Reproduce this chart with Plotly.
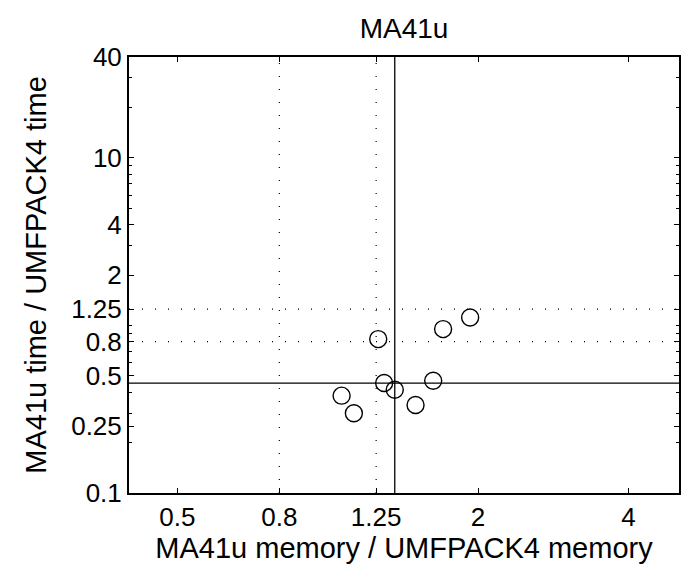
import numpy as np
import plotly.graph_objects as go

# Data: memory ratio (x) and time ratio (y) for MA41u vs UMFPACK4
mem_ratio = [1.262, 1.702, 1.928, 1.297, 1.362, 1.626, 1.066, 1.128, 1.499]
time_ratio = [0.829, 0.951, 1.116, 0.453, 0.413, 0.468, 0.381, 0.299, 0.335]

x_ticks = [0.5, 0.8, 1.25, 2, 4]
x_ticklabels = ["0.5", "0.8", "1.25", "2", "4"]
y_ticks = [0.1, 0.25, 0.5, 0.8, 1.25, 2, 4, 10, 40]
y_ticklabels = ["0.1", "0.25", "0.5", "0.8", "1.25", "2", "4", "10", "40"]
ref_levels = [0.8, 1.25]
x_range = [0.4, 5.05]
y_range = [0.1, 40]

x_med = float(np.median(mem_ratio))
y_med = float(np.median(time_ratio))

FONT = "Liberation Sans, Arial, Helvetica, sans-serif"

fig = go.Figure()

fig.add_trace(go.Scatter(
    x=mem_ratio, y=time_ratio, mode="markers",
    marker=dict(symbol="circle-open", size=17, color="black",
                line=dict(width=1.4, color="black")),
    showlegend=False, hoverinfo="x+y"))

shapes = []
dot = dict(color="black", width=1.2, dash="1px,12px")
for v in ref_levels:
    shapes.append(dict(type="line", xref="x", yref="paper", x0=v, x1=v, y0=0, y1=1, line=dot, layer="below"))
    shapes.append(dict(type="line", xref="paper", yref="y", x0=0, x1=1, y0=v, y1=v, line=dot, layer="below"))
solid = dict(color="black", width=1.3)
shapes.append(dict(type="line", xref="x", yref="paper", x0=x_med, x1=x_med, y0=0, y1=1, line=solid))
shapes.append(dict(type="line", xref="paper", yref="y", x0=0, x1=1, y0=y_med, y1=y_med, line=solid))

axis_common = dict(
    type="log", showgrid=False, zeroline=False,
    showline=True, linecolor="black", linewidth=2, mirror="allticks",
    ticks="inside", ticklen=5, tickwidth=1, tickcolor="black",
    tickfont=dict(family=FONT, size=26, color="black"),
)

fig.update_layout(
    width=687, height=571,
    margin=dict(l=129, r=6, t=57, b=78),
    paper_bgcolor="white", plot_bgcolor="white",
    title=dict(text="MA41u", x=0.5, xanchor="center", y=0.95, yanchor="middle",
               xref="paper",
               font=dict(family=FONT, size=28, color="black")),
    xaxis=dict(**axis_common,
               range=[np.log10(x_range[0]), np.log10(x_range[1])],
               tickvals=x_ticks, ticktext=x_ticklabels,
               title=dict(text="MA41u memory / UMFPACK4 memory",
                          font=dict(family=FONT, size=29, color="black"), standoff=4)),
    yaxis=dict(**axis_common,
               range=[np.log10(y_range[0]), np.log10(y_range[1])],
               tickvals=y_ticks, ticktext=y_ticklabels,
               minor=dict(ticks="inside", ticklen=3, tickcolor="black", dtick="D1", showgrid=False),
               title=dict(text="MA41u time / UMFPACK4 time",
                          font=dict(family=FONT, size=29, color="black"), standoff=16)),
    shapes=shapes,
)

fig.write_html("out.html")
